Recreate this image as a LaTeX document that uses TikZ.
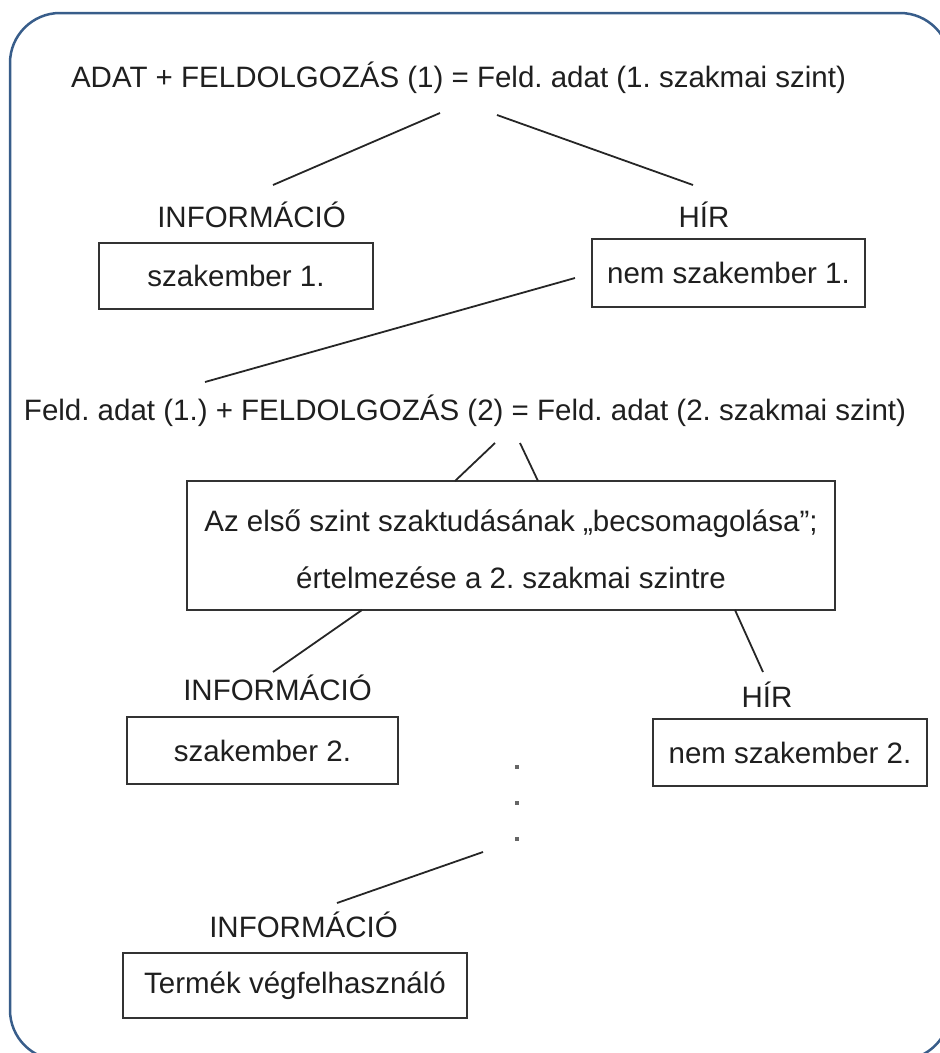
\documentclass[tikz,border=0pt]{standalone}
\usepackage{fontspec}
\setmainfont{Liberation Sans}
\frenchspacing
\definecolor{frameblue}{RGB}{56,93,138}
\begin{document}
\begin{tikzpicture}[x=1pt,y=-1pt,
  lbl/.style={font=\fontsize{29.5}{35}\selectfont, text=black!88, inner sep=0pt, anchor=base},
  box/.style={draw=black!80, line width=2pt, inner sep=0pt,
    font=\fontsize{29.5}{35}\selectfont, text=black!88},
  link/.style={draw=black!85, line width=1.8pt},
  dot/.style={fill=black!60, draw=none, minimum size=4pt, inner sep=0pt, rectangle},
]
\useasboundingbox (0,0) rectangle (940,1053);

% rounded outer frame, running off the right and bottom edges
\begin{scope}
  \clip (0,0) rectangle (940,1053);
  \draw[frameblue, line width=2.5pt, rounded corners=50pt] (10,13) rectangle (950,1060);
\end{scope}

% first level
\node[lbl] (eq1) at (458.5,87) {ADAT + FELDOLGOZÁS (1) = Feld. adat (1. szakmai szint)};
\node[lbl] (info1) at (251.5,227) {INFORMÁCIÓ};
\node[lbl] (hir1) at (704,227) {HÍR};
\node[box, minimum width=274pt, minimum height=66pt] (szak1) at (236,276) {szakember 1.};
\node[box, minimum width=273pt, minimum height=68pt] (nem1) at (728.5,273) {nem szakember 1.};

% second level
\node[lbl] (eq2) at (465,420) {Feld. adat (1.) + FELDOLGOZÁS (2) = Feld. adat (2. szakmai szint)};
\node[box, minimum width=648pt, minimum height=129pt] (pack) at (511,545.5) {};
\node[lbl] (packA) at (511,531) {Az első szint szaktudásának „becsomagolása”;};
\node[lbl] (packB) at (511,588) {értelmezése a 2. szakmai szintre};
\node[lbl] (info2) at (277.5,700) {INFORMÁCIÓ};
\node[lbl] (hir2) at (767,707) {HÍR};
\node[box, minimum width=271pt, minimum height=67pt] (szak2) at (262.5,750.5) {szakember 2.};
\node[box, minimum width=274pt, minimum height=67pt] (nem2) at (790,752.5) {nem szakember 2.};

% continuation dots
\node[dot] (d1) at (517,767) {};
\node[dot] (d2) at (517,803) {};
\node[dot] (d3) at (517,839) {};

% last level
\node[lbl] (info3) at (303.5,937) {INFORMÁCIÓ};
\node[box, minimum width=344pt, minimum height=65pt] (veg) at (295,985.5) {Termék végfelhasználó};

% connector end points
\coordinate (eq1L) at (440,113);
\coordinate (eq1R) at (497,115);
\coordinate (info1T) at (273,185);
\coordinate (hir1T) at (693,185);
\coordinate (nem1L) at (575,278);
\coordinate (eq2T) at (205,382);
\coordinate (eq2L) at (495,443);
\coordinate (eq2R) at (520,443);
\coordinate (packTL) at (455,481);
\coordinate (packTR) at (538,481);
\coordinate (packBL) at (362,610);
\coordinate (packBR) at (735,610);
\coordinate (info2T) at (273,672);
\coordinate (hir2T) at (763,672);
\coordinate (dotsL) at (483,852);
\coordinate (info3T) at (337,903);

% connectors
\draw[link] (eq1L) -- (info1T);
\draw[link] (eq1R) -- (hir1T);
\draw[link] (nem1L) -- (eq2T);
\draw[link] (eq2L) -- (packTL);
\draw[link] (eq2R) -- (packTR);
\draw[link] (packBL) -- (info2T);
\draw[link] (packBR) -- (hir2T);
\draw[link] (dotsL) -- (info3T);
\end{tikzpicture}
\end{document}
